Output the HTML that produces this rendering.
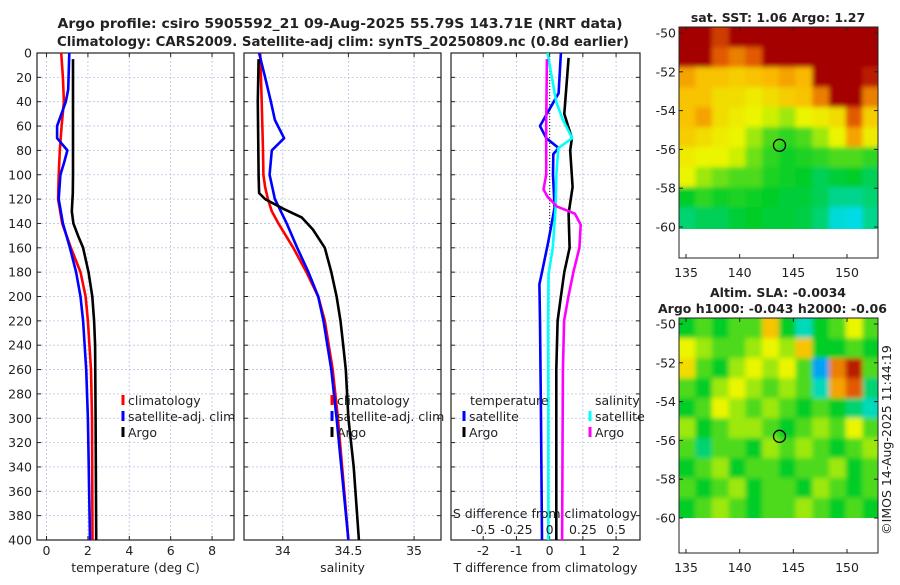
<!DOCTYPE html>
<html><head><meta charset="utf-8"><style>
body{margin:0;background:#fff;}
svg text{font-family:"DejaVu Sans","Liberation Sans",sans-serif;fill:#222;}
</style></head><body>
<svg id="fig" width="900" height="580" viewBox="0 0 900 580" xmlns="http://www.w3.org/2000/svg">
<defs>
<filter id="blur" x="-5%" y="-5%" width="110%" height="110%"><feGaussianBlur stdDeviation="2.5"/></filter>
<clipPath id="clipSst"><rect x="679" y="27" width="199" height="202"/></clipPath>
<clipPath id="clipSla"><rect x="679" y="318" width="199" height="200"/></clipPath>
</defs>
<text x="340" y="28" text-anchor="middle" font-size="13" font-weight="bold" textLength="565" lengthAdjust="spacingAndGlyphs">Argo profile: csiro 5905592_21 09-Aug-2025 55.79S 143.71E (NRT data)</text>
<text x="343" y="46" text-anchor="middle" font-size="13" font-weight="bold" textLength="572" lengthAdjust="spacingAndGlyphs">Climatology: CARS2009. Satellite-adj clim: synTS_20250809.nc (0.8d earlier)</text>
<g id="g"></g>
</svg>
<script>
// ---------- data ----------
const depthTicks=[0,20,40,60,80,100,120,140,160,180,200,220,240,260,280,300,320,340,360,380,400];
const tTicks=[0,2,4,6,8];
const sTicks=[34,34.5,35];
const dTicks=[-2,-1,0,1,2];
const sdTickLabels=["-0.5","-0.25","0","0.25","0.5"];
const climTDepth=[0,20,40,60,80,100,120,140,160,180,200,220,260,300,400];
const climT=[0.71,0.79,0.84,0.73,0.64,0.59,0.56,0.76,1.18,1.64,1.89,2.0,2.15,2.2,2.22];
const satTDepth=[0,30,40,60,70,80,90,100,120,140,160,180,200,220,260,300,400];
const satT=[1.1,1.05,0.93,0.51,0.51,1.01,0.85,0.67,0.59,0.79,1.13,1.43,1.64,1.77,1.92,2.0,2.1];
const argoTDepth=[5,20,60,100,115,130,140,150,160,180,200,220,240,300,400];
const argoT=[1.28,1.28,1.28,1.28,1.27,1.22,1.3,1.52,1.77,2.03,2.21,2.3,2.35,2.37,2.4];
const climSDepth=[0,40,80,100,110,120,130,140,160,180,200,220,260,300,350,400];
const climS=[33.828,33.84,33.85,33.853,33.866,33.887,33.917,33.967,34.08,34.18,34.27,34.32,34.38,34.42,34.46,34.5];
const satSDepth=[0,20,40,55,70,80,100,120,140,160,180,200,220,260,300,350,400];
const satS=[33.82,33.866,33.91,33.94,34.01,33.917,33.9,33.94,34.03,34.11,34.195,34.27,34.31,34.37,34.41,34.455,34.5];
const argoSDepth=[5,40,100,115,120,128,135,145,160,180,200,220,240,260,300,340,400];
const argoS=[33.816,33.81,33.816,33.82,33.866,34.005,34.144,34.23,34.32,34.37,34.41,34.44,34.46,34.48,34.5,34.54,34.58];
const dSatTDepth=[0,33,60,70,78,83,100,127,155,180,190,220,300,400];
const dSatT=[0.34,0.27,-0.29,-0.1,0.27,0.11,0.1,0.15,-0.04,-0.23,-0.31,-0.29,-0.26,-0.23];
const dArgoTDepth=[4,50,70,80,110,132,160,180,200,220,260,300,400];
const dArgoT=[0.57,0.44,0.67,0.62,0.69,0.57,0.6,0.44,0.34,0.24,0.2,0.2,0.2];
const dSatSDepth=[0,40,55,70,78,100,127,160,182,220,300,400];
const dSatS=[-0.016,0.049,0.1,0.17,0.066,0.05,0.045,0.024,-0.009,-0.012,-0.01,-0.01];
const dArgoSDepth=[5,60,100,112,118,126,132,141,160,180,200,220,260,400];
const dArgoS=[-0.021,-0.026,-0.026,-0.046,-0.016,0.054,0.19,0.234,0.224,0.179,0.141,0.109,0.1,0.094];
const latTicks=[-50,-52,-54,-56,-58,-60];
const lonTicks=[135,140,145,150];
const sstGrid=[
[1,1,.9,1,1,1,1,1,1,1,1,1],
[1,1,.85,.8,.85,1,1,1,1,1,1,1],
[.75,.7,.7,.68,.7,.72,.75,.72,1,1,1,.95],
[.7,.7,.65,.65,.62,.65,.68,.7,.8,1,1,.8],
[.7,.75,.65,.62,.6,.58,.55,.6,.62,.65,.85,.68],
[.68,.65,.62,.6,.55,.5,.48,.5,.55,.6,.75,.62],
[.62,.6,.6,.58,.52,.48,.46,.47,.48,.5,.5,.48],
[.6,.55,.52,.5,.5,.47,.46,.45,.42,.44,.45,.42],
[.45,.48,.46,.47,.46,.45,.44,.44,.42,.38,.38,.4],
[.4,.42,.42,.44,.45,.44,.44,.43,.4,.33,.32,.38]];
const slaGrid=[
[.45,.5,.45,.5,.5,.7,.45,.35,.45,.5,.6,.5],
[.6,.55,.5,.5,.55,.6,.55,.7,.45,.45,.5,.45],
[.65,.5,.45,.55,.6,.55,.6,.5,.25,.8,.95,.5],
[.5,.45,.55,.6,.55,.5,.55,.5,.35,.75,.85,.4],
[.45,.5,.6,.55,.5,.55,.5,.45,.5,.45,.4,.35],
[.55,.45,.5,.55,.55,.5,.45,.5,.55,.5,.6,.5],
[.5,.4,.5,.5,.45,.55,.5,.55,.5,.45,.5,.55],
[.45,.5,.55,.45,.5,.5,.45,.5,.5,.55,.45,.5],
[.5,.45,.5,.55,.45,.5,.5,.45,.55,.5,.45,.5],
[.45,.5,.55,.5,.45,.5,.5,.55,.5,.45,.5,.45]];
const floatLon=143.71, floatLat=-55.79;

// ---------- drawing ----------
const NS="http://www.w3.org/2000/svg";
const G=document.getElementById('g');
function el(t,a,p){const e=document.createElementNS(NS,t);for(const k in a)e.setAttribute(k,a[k]);(p||G).appendChild(e);return e;}
function txt(s,a,p){const e=el('text',a,p);e.textContent=s;return e;}
const FS=12.5;
const yTop=53,yBot=540;
const yD=d=>yTop+(d/400)*(yBot-yTop);
function lin(d0,d1,r0,r1){return v=>r0+(v-d0)/(d1-d0)*(r1-r0);}
const panels=[
 {name:'temperature-panel',x0:37,x1:234,sx:lin(-0.46,9.06,37,234),ticks:tTicks,labels:tTicks.map(String),xt:'temperature (deg C)'},
 {name:'salinity-panel',x0:244,x1:441,sx:lin(33.705,35.205,244,441),ticks:sTicks,labels:sTicks.map(String),xt:'salinity'},
 {name:'difference-panel',x0:451,x1:640,sx:lin(-2.97,2.72,451,640),ticks:dTicks,labels:dTicks.map(String),xt:'T difference from climatology'}];
panels.forEach((p,i)=>{
 const g=el('g',{});  
 depthTicks.forEach(d=>{ if(d>0&&d<400){const l=el('line',{x1:p.x0,x2:p.x1,y1:yD(d),y2:yD(d),stroke:'#b8c4e8','stroke-width':0.8,'stroke-dasharray':'2,2'},g);}
  el('line',{x1:p.x0,x2:p.x0+4,y1:yD(d),y2:yD(d),stroke:'#222'},g); el('line',{x1:p.x1,x2:p.x1-4,y1:yD(d),y2:yD(d),stroke:'#222'},g);
  if(i==0){const t=txt(String(d),{x:p.x0-5,y:yD(d)+4.5,'text-anchor':'end','font-size':FS},g);}});
 p.ticks.forEach((v,j)=>{const x=p.sx(v);
  el('line',{x1:x,x2:x,y1:yTop,y2:yBot,stroke:'#b8c4e8','stroke-width':0.8,'stroke-dasharray':'2,2'},g);
  el('line',{x1:x,x2:x,y1:yBot,y2:yBot-4,stroke:'#222'},g); el('line',{x1:x,x2:x,y1:yTop,y2:yTop+4,stroke:'#222'},g);
  const t=txt(p.labels[j],{x:x,y:555,'text-anchor':'middle','font-size':FS},g);});
 el('rect',{x:p.x0,y:yTop,width:p.x1-p.x0,height:yBot-yTop,fill:'none',stroke:'#222','stroke-width':1.2},g);
 const t=txt(p.xt,{x:(p.x0+p.x1)/2,y:572,'text-anchor':'middle','font-size':FS},g);
});
function prof(name,depths,vals,sx,color,extra){
 const pts=depths.map((d,k)=>sx(vals[k]).toFixed(1)+','+yD(d).toFixed(1)).join(' ');
 const l=el('polyline',Object.assign({points:pts,fill:'none',stroke:color,'stroke-width':2.6,'stroke-linejoin':'round'},extra||{}));
 
 
}
const [P1,P2,P3]=panels;
prof('climatology-temperature-line',climTDepth,climT,P1.sx,'#f00');
prof('satellite-temperature-line',satTDepth,satT,P1.sx,'#00f');
prof('argo-temperature-line',argoTDepth,argoT,P1.sx,'#000');
prof('climatology-salinity-line',climSDepth,climS,P2.sx,'#f00');
prof('satellite-salinity-line',satSDepth,satS,P2.sx,'#00f');
prof('argo-salinity-line',argoSDepth,argoS,P2.sx,'#000');
const sdx=v=>P3.sx(v*4);
el('line',{x1:P3.sx(0),x2:P3.sx(0),y1:yD(0),y2:yD(145),stroke:'#333','stroke-width':1.2,'stroke-dasharray':'1,2'});
prof('satellite-t-difference-line',dSatTDepth,dSatT,P3.sx,'#00f');
prof('argo-t-difference-line',dArgoTDepth,dArgoT,P3.sx,'#000');
prof('satellite-s-difference-line',dSatSDepth,dSatS,sdx,'#0ff');
prof('argo-s-difference-line',dArgoSDepth,dArgoS,sdx,'#f0f');
txt('S difference from climatology',{x:545,y:518,'text-anchor':'middle','font-size':FS});
dTicks.forEach((v,j)=>{txt(sdTickLabels[j],{x:P3.sx(v),y:534,'text-anchor':'middle','font-size':FS});});
function leg(x,y,color,label,name){const g=el('g',{});
 el('line',{x1:x,x2:x,y1:y-10,y2:y,stroke:color,'stroke-width':3},g);txt(label,{x:x+5,y:y,'font-size':FS},g);}
[[123,'#f00','climatology'],[123,'#00f','satellite-adj. clim'],[123,'#000','Argo']].forEach((e,k)=>leg(e[0],405+k*16,e[1],e[2],'temperature-legend-entry'));
[[332,'#f00','climatology'],[332,'#00f','satellite-adj. clim'],[332,'#000','Argo']].forEach((e,k)=>leg(e[0],405+k*16,e[1],e[2],'salinity-legend-entry'));
txt('temperature',{x:470,y:405,'font-size':FS});
leg(464,421,'#00f','satellite','t-diff-legend-entry');leg(464,437,'#000','Argo','t-diff-legend-entry');
txt('salinity',{x:595,y:405,'font-size':FS});
leg(590,421,'#0ff','satellite','s-diff-legend-entry');leg(590,437,'#f0f','Argo','s-diff-legend-entry');
function cmap(v){const stops=[[0,[0,0,200]],[0.2,[0,120,255]],[0.32,[0,220,230]],[0.45,[0,205,40]],[0.6,[235,245,0]],[0.72,[250,185,0]],[0.85,[225,90,0]],[1,[165,0,0]]];
 for(let i=1;i<stops.length;i++){if(v<=stops[i][0]){const a=stops[i-1],b=stops[i],t=(v-a[0])/(b[0]-a[0]);return 'rgb('+a[1].map((c,k)=>Math.round(c+(b[1][k]-c)*t)).join(',')+')';}}return 'rgb(165,0,0)';}
function map(name,grid,fx0,fx1,fy0,fy1,lat50,lat60,clip){
 const g=el('g',{});
 const lonMin=134.3,lonMax=153;const sx=lin(135,150,686,847);const sy=lin(-50,-60,lat50,lat60);
 const rows=grid.length,cols=grid[0].length;const latTop=-49.7,latBot=-60;
 const cg=el('g',{'clip-path':'url(#'+clip+')'},g);
 const bg=el('g',{filter:'url(#blur)'},cg);
 grid.forEach((row,r)=>row.forEach((v,c)=>{
  const x0=sx(lonMin+c*(lonMax-lonMin)/cols),x1=sx(lonMin+(c+1)*(lonMax-lonMin)/cols);
  const y0=sy(latTop+r*(latBot-latTop)/rows),y1=sy(latTop+(r+1)*(latBot-latTop)/rows);
  const ex0=c==0?x0-12:x0, ex1=c==cols-1?x1+12:x1, ey0=r==0?y0-12:y0, ey1=r==rows-1?y1+12:y1;
  const rc=el('rect',{x:ex0,y:ey0,width:ex1-ex0+0.6,height:ey1-ey0+0.6,fill:cmap(v)},bg);
  }));
 el('rect',{x:fx0,y:fy0,width:fx1-fx0,height:fy1-fy0,fill:'none',stroke:'#222'},g);
 latTicks.forEach(l=>{el('line',{x1:fx0,x2:fx0+4,y1:sy(l),y2:sy(l),stroke:'#222'},g);el('line',{x1:fx1,x2:fx1-4,y1:sy(l),y2:sy(l),stroke:'#222'},g);
  txt(String(l),{x:fx0-3,y:sy(l)+4.5,'text-anchor':'end','font-size':FS},g);});
 lonTicks.forEach(l=>{el('line',{x1:sx(l),x2:sx(l),y1:fy1,y2:fy1-4,stroke:'#222'},g);el('line',{x1:sx(l),x2:sx(l),y1:fy0,y2:fy0+4,stroke:'#222'},g);
  txt(String(l),{x:sx(l),y:fy1+19,'text-anchor':'middle','font-size':FS},g);});
 const c=el('circle',{cx:sx(floatLon),cy:sy(floatLat),r:6,fill:'none',stroke:'#000','stroke-width':1.3},g);
 
}
map('sst-map',sstGrid,679,878,27,258,33,227,'clipSst');
map('sla-map',slaGrid,679,878,318,553,324,518,'clipSla');
txt('sat. SST: 1.06 Argo: 1.27',{x:778,y:22,'text-anchor':'middle','font-size':FS,'font-weight':'bold'});
txt('Altim. SLA: -0.0034',{x:710,y:297,'font-size':FS,'font-weight':'bold'});
txt('Argo h1000: -0.043 h2000: -0.06',{x:658,y:313,'font-size':FS,'font-weight':'bold'});
txt('©IMOS 14-Aug-2025 11:44:19',{x:0,y:0,'font-size':FS,transform:'translate(891,440) rotate(-90)','text-anchor':'middle'});
</script>
</body></html>
